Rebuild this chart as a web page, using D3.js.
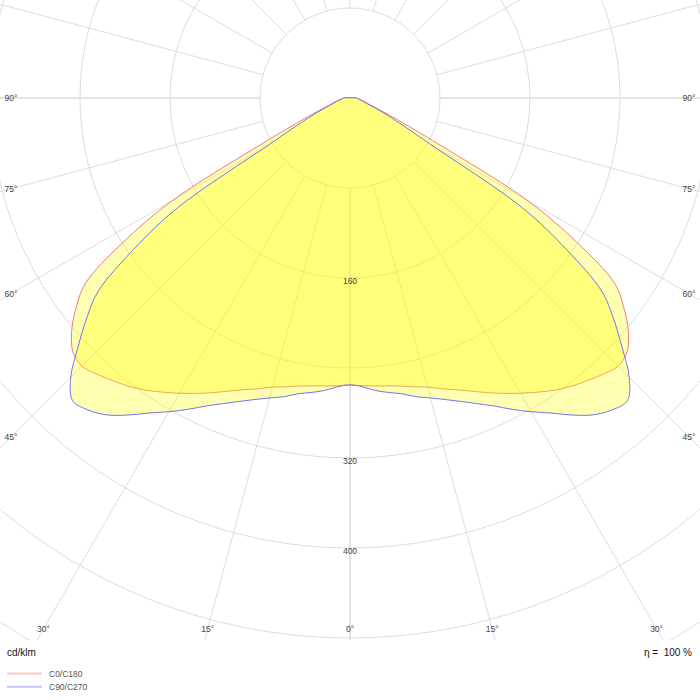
<!DOCTYPE html>
<html>
<head>
<meta charset="utf-8">
<script src="https://cdn.jsdelivr.net/npm/d3@7/dist/d3.min.js"></script>
<style>
body{margin:0;background:#fff;}
.fonts{font-family:"Liberation Sans",Arial,sans-serif;}
</style>
</head>
<body>
<div id="viz_ldc" style="width:700px;height:700px"></div>
<script>
// gamma angles (deg) and intensities in cd/klm
var gamma=[0,2.5,5,7.5,10,12.5,15,17.5,20,22.5,25,27.5,30,32.5,35,37.5,40,42.5,45,
  47.5,50,52.5,55,57.5,60,62.5,65,67.5,70,72.5,75,77.5,80,82.5,85,87.5,90];
var c0_c180=[255,256,257,258,260,263,266,271,276,282,289,296,303,310,317,323,328,333,337,
  334,323,307,287,240,182,88,50,32,22,17,14,12,10,8,7,6.5,6];
var c90_c270=[255,257,261,264,267,272,276,281,287,294,302,312,322,332,344,355,362,365,351,
  328,306,282,235,182,84,54,38,27,19,15,12.5,10.5,9,8,7,6.5,6];

var ringValues=[80,160,240,320,400,480,560];
var ringLabels=[160,320,400];
var angleTicks=[0,15,30,45,60,75,90];
var spokeAngles=[0,15,30,45,60,75,90,105,120,135,150,165,180,195,210,225,240,255,270,285,300,315,330,345];
var legendNames=["C0/C180","C90/C270"];
var unitLabel="cd/klm";
var etaLabel="η =  100 %";

var width=700, height=700, chart_h=640;
var cx=350, cy=98;
var rad=Math.PI/180;

var svg=d3.select("#viz_ldc")
  .append("svg")
  .attr("width",width)
  .attr("height",height);

svg.append("defs").append("clipPath")
  .attr("id","chartClip")
  .append("rect")
  .attr("x",0).attr("y",0)
  .attr("width",width).attr("height",chart_h);

var rScale=d3.scaleLinear()
  .domain([0,80])
  .range([0,90]);

var g=svg.append("g")
  .attr("clip-path","url(#chartClip)");
var polar=g.append("g")
  .attr("transform","translate("+cx+","+cy+")");

//rings
polar.selectAll(".ring")
  .data(ringValues)
  .enter()
  .append("circle")
  .attr("class","ring")
  .attr("r",function(d){return rScale(d);})
  .attr("fill","none")
  .attr("stroke","#dcdcdc")
  .attr("stroke-width",1);

//spokes, from the first ring outwards
polar.selectAll(".spoke")
  .data(spokeAngles)
  .enter()
  .append("line")
  .attr("class","spoke")
  .attr("x1",function(d){return rScale(ringValues[0])*Math.sin(d*rad);})
  .attr("y1",function(d){return rScale(ringValues[0])*Math.cos(d*rad);})
  .attr("x2",function(d){return 900*Math.sin(d*rad);})
  .attr("y2",function(d){return 900*Math.cos(d*rad);})
  .attr("stroke",function(d){return d%90==0 && d!=180 ? "#e4e4e4" : "#dcdcdc";})
  .attr("stroke-width",function(d){return d%90==0 && d!=180 ? 2 : 1;});

//curves
var radialLine=d3.lineRadial()
  .angle(function(d){return d[0];})
  .radius(function(d){return rScale(d[1]);})
  .curve(d3.curveCatmullRomClosed.alpha(0.5));

function curvePoints(values){
  var pts=[];
  for(var i=gamma.length-1;i>=0;i--){
    pts.push([Math.PI+gamma[i]*rad,values[i]]);
  }
  for(var j=1;j<gamma.length;j++){
    pts.push([Math.PI-gamma[j]*rad,values[j]]);
  }
  return pts;
}

var series=[
  {name:legendNames[0],values:c0_c180,stroke:"#f07c7c"},
  {name:legendNames[1],values:c90_c270,stroke:"#7474ec"}
];

polar.selectAll(".ldc")
  .data(series)
  .enter()
  .append("path")
  .attr("class","ldc")
  .attr("d",function(d){return radialLine(curvePoints(d.values));})
  .attr("fill","#ffff00")
  .attr("fill-opacity",0.3)
  .attr("stroke",function(d){return d.stroke;})
  .attr("stroke-width",1);

//ring labels
polar.selectAll(".ringlabel")
  .data(ringLabels)
  .enter()
  .append("text")
  .attr("class","fonts ringlabel")
  .attr("x",0)
  .attr("y",function(d){return rScale(d)+6;})
  .attr("text-anchor","middle")
  .attr("font-size","8.5px")
  .attr("fill","#444")
  .text(function(d){return d;});

//angle labels on the border
var angleLabels=[];
angleTicks.forEach(function(a){
  angleLabels.push({a:a,side:-1});
  if(a!=0) angleLabels.push({a:a,side:1});
});
function labelPos(d){
  var s=Math.sin(d.a*rad), c=Math.cos(d.a*rad);
  var tx=s>0.0001 ? (cx-11)/s : 1e9;
  var ty=c>0.0001 ? (629-cy)/c : 1e9;
  var t=Math.min(tx,ty);
  return [cx+d.side*t*s, cy+t*c];
}
svg.selectAll(".anglelabel")
  .data(angleLabels)
  .enter()
  .append("text")
  .attr("class","fonts anglelabel")
  .attr("x",function(d){return labelPos(d)[0];})
  .attr("y",function(d){return labelPos(d)[1]+3;})
  .attr("text-anchor","middle")
  .attr("font-size","8.5px")
  .attr("fill","#444")
  .text(function(d){return d.a+"°";});

//footer
svg.append("text")
  .attr("class","fonts")
  .attr("x",7).attr("y",656)
  .attr("font-size","10px")
  .attr("fill","#111")
  .text(unitLabel);
svg.append("text")
  .attr("class","fonts")
  .attr("x",692).attr("y",656)
  .attr("text-anchor","end")
  .attr("font-size","10px")
  .attr("fill","#111")
  .style("white-space","pre")
  .attr("xml:space","preserve")
  .text(etaLabel);

var legendColors=["#ffc4c4","#c4c4ff"];
var legend=svg.selectAll(".legend")
  .data(series)
  .enter()
  .append("g")
  .attr("class","legend")
  .attr("transform",function(d,i){return "translate(7,"+(673.5+i*13.3)+")";});
legend.append("line")
  .attr("x1",0).attr("x2",35)
  .attr("y1",0).attr("y2",0)
  .attr("stroke",function(d,i){return legendColors[i];})
  .attr("stroke-width",2);
legend.append("text")
  .attr("class","fonts")
  .attr("x",42).attr("y",3)
  .attr("font-size","8.5px")
  .attr("fill","#555")
  .text(function(d){return d.name;});
</script>
</body>
</html>
